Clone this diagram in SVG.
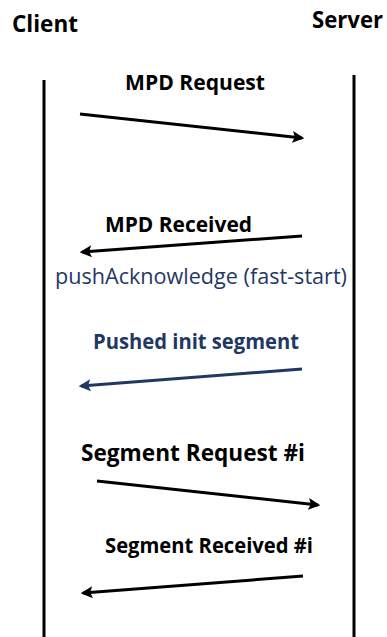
<svg xmlns="http://www.w3.org/2000/svg" width="387" height="637" viewBox="0 0 387 637">
  <style>
    text { font-family: "Open Sans", "Noto Sans", "Liberation Sans", sans-serif; }
    .b { font-weight: bold; fill: #000; }
    .nv { fill: #1f3864; }
    .life { stroke: #000; stroke-width: 3; fill: none; }
    .msg { stroke: #000; stroke-width: 3; fill: none; marker-end: url(#ah); }
    .msgnv { stroke: #1f3864; stroke-width: 3; fill: none; marker-end: url(#ahnv); }
  </style>
  <defs>
    <marker id="ah" markerWidth="4" markerHeight="4" refX="3.2" refY="2" orient="auto" markerUnits="strokeWidth">
      <path d="M0,0 L4,2 L0,4 L0.8,2 Z" fill="#000"/>
    </marker>
    <marker id="ahnv" markerWidth="4" markerHeight="4" refX="3.2" refY="2" orient="auto" markerUnits="strokeWidth">
      <path d="M0,0 L4,2 L0,4 L0.8,2 Z" fill="#1f3864"/>
    </marker>
  </defs>
  <rect width="387" height="637" fill="#fff"/>

  <!-- participants with lifelines -->
  <g id="client">
    <text class="b" x="12" y="32" font-size="22.5" textLength="66" lengthAdjust="spacingAndGlyphs">Client</text>
    <line class="life" x1="44" y1="80" x2="44" y2="637"/>
  </g>
  <g id="server">
    <text class="b" x="312" y="28" font-size="22.5" textLength="71" lengthAdjust="spacingAndGlyphs">Server</text>
    <line class="life" x1="354" y1="75" x2="354" y2="637"/>
  </g>

  <!-- messages -->
  <g id="connectors">
    <line class="msg" x1="80" y1="114" x2="302" y2="138"/>
    <line class="msg" x1="302" y1="236" x2="82" y2="252"/>
    <line class="msgnv" x1="302" y1="369" x2="81" y2="386"/>
    <line class="msg" x1="97" y1="481" x2="318" y2="505"/>
    <line class="msg" x1="303" y1="576" x2="83" y2="593"/>
  </g>

  <g id="labels">
    <text class="b" x="125" y="90" font-size="21" textLength="140" lengthAdjust="spacingAndGlyphs">MPD Request</text>
    <text class="b" x="105" y="232" font-size="21" textLength="147" lengthAdjust="spacingAndGlyphs">MPD Received</text>
    <text class="nv" x="55" y="284" font-size="21" textLength="292" lengthAdjust="spacingAndGlyphs">pushAcknowledge (fast-start)</text>
    <text class="nv" font-weight="bold" x="93" y="349" font-size="21" textLength="206" lengthAdjust="spacingAndGlyphs">Pushed init segment</text>
    <text class="b" x="81" y="461" font-size="22.5" textLength="224" lengthAdjust="spacingAndGlyphs">Segment Request #i</text>
    <text class="b" x="105" y="553" font-size="21" textLength="208" lengthAdjust="spacingAndGlyphs">Segment Received #i</text>
  </g>
</svg>
